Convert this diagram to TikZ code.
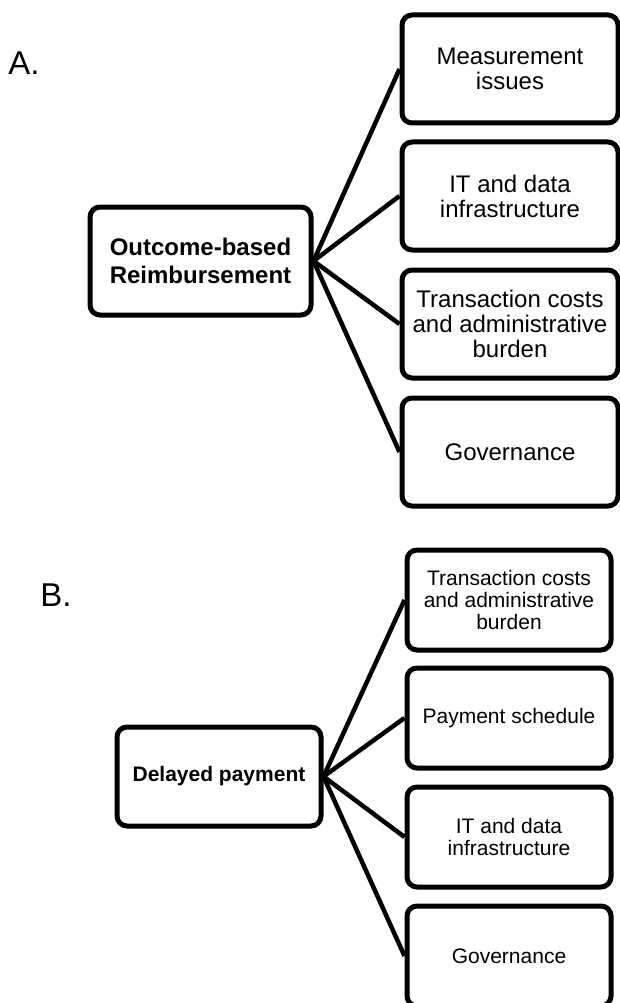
\documentclass[tikz,border=0pt]{standalone}
\usepackage{fontspec}
\setmainfont{Liberation Sans}

\begin{document}
\begin{tikzpicture}[x=1pt,y=-1pt,
  box/.style={draw,line width=5pt,rounded corners=10pt,align=center,inner sep=0pt},
  topmain/.style={box,minimum width=221pt,minimum height=108pt,font=\fontsize{24}{28}\selectfont\bfseries},
  topkid/.style={box,minimum width=216pt,minimum height=108pt,font=\fontsize{24}{25}\selectfont},
  lowmain/.style={box,minimum width=204pt,minimum height=99pt,font=\fontsize{21}{22}\selectfont\bfseries},
  lowkid/.style={box,minimum width=204pt,minimum height=100pt,font=\fontsize{21}{22}\selectfont},
  link/.style={line width=4.5pt},
  tag/.style={font=\fontsize{33}{33}\selectfont}]
\useasboundingbox (0,0) rectangle (620,1003);

\node[tag] (tagA) at (24,63) {A.};
\node[topmain] (A0) at (200.5,261) {Outcome-based\\Reimbursement};
\node[topkid] (A1) at (510,69) {Measurement\\issues};
\node[topkid] (A2) at (510,196) {IT and data\\infrastructure};
\node[topkid] (A3) at (510,324) {Transaction costs\\and administrative\\burden};
\node[topkid] (A4) at (510,452) {Governance};

\node[tag] (tagB) at (56,595) {B.};
\node[lowmain] (B0) at (219,776.5) {Delayed payment};
\node[lowkid] (B1) at (509,600) {Transaction costs\\and administrative\\burden};
\node[lowkid] (B2) at (509,718) {Payment schedule};
\node[lowkid] (B3) at (509,837) {IT and data\\infrastructure};
\node[lowkid] (B4) at (509,956) {Governance};

\foreach \i in {1,...,4}{
  \draw[link] (A0.east) -- (A\i.west);
  \draw[link] (B0.east) -- (B\i.west);
}
\end{tikzpicture}
\end{document}
